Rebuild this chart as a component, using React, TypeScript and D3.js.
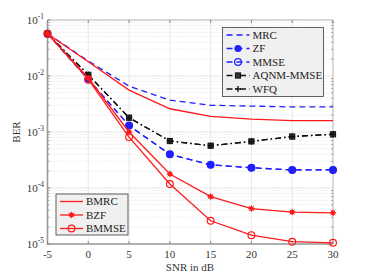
import * as d3 from "d3";

const snr = [-5, 0, 5, 10, 15, 20, 25, 30];
const mrc = [0.057, 0.0185, 0.0066, 0.0037, 0.003, 0.0029, 0.0028, 0.0028];
const zf = [0.057, 0.0087, 0.0013, 0.0004, 0.00026, 0.00023, 0.00021, 0.00021];
const mmse = [0.057, 0.0087, 0.0013, 0.0004, 0.00026, 0.00023, 0.00021, 0.00021];
const aqnm = [0.057, 0.0105, 0.0018, 0.00069, 0.00057, 0.00068, 0.00083, 0.00091];
const wfq = [0.057, 0.0105, 0.0018, 0.00069, 0.00057, 0.00068, 0.00083, 0.00091];
const bmrc = [0.057, 0.018, 0.0056, 0.0026, 0.0019, 0.0017, 0.0016, 0.0016];
const bzf = [0.057, 0.0092, 0.001, 0.000178, 0.00007, 0.000043, 0.000037, 0.000036];
const bmmse = [0.057, 0.0087, 0.00081, 0.000118, 0.000026, 0.0000144, 0.000011, 0.0000105];

const xTicks = [-5, 0, 5, 10, 15, 20, 25, 30];
const yExponents = [-1, -2, -3, -4, -5];

type Marker = "none" | "dot" | "circle" | "square" | "plus" | "star";
type Series = { name: string; values: number[]; color: string; dash: string; marker: Marker };

const topSeries: Series[] = [
  { name: "MRC", values: mrc, color: "#1f1fff", dash: "6,4", marker: "none" },
  { name: "ZF", values: zf, color: "#1f1fff", dash: "6,4", marker: "dot" },
  { name: "MMSE", values: mmse, color: "#1f1fff", dash: "6,4", marker: "circle" },
  { name: "AQNM-MMSE", values: aqnm, color: "#111", dash: "6,3,1.5,3", marker: "square" },
  { name: "WFQ", values: wfq, color: "#111", dash: "6,3,1.5,3", marker: "plus" },
];
const bottomSeries: Series[] = [
  { name: "BMRC", values: bmrc, color: "#ff1a1a", dash: "", marker: "none" },
  { name: "BZF", values: bzf, color: "#ff1a1a", dash: "", marker: "star" },
  { name: "BMMSE", values: bmmse, color: "#ff1a1a", dash: "", marker: "circle" },
];

const left = 47.5;
const right = 333;
const top = 20;
const bottom = 244;

const x = d3.scaleLinear().domain([-5, 30]).range([left, right]);
const y = d3.scaleLog().domain([1e-5, 1e-1]).range([bottom, top]);

function MarkerGlyph({ type, cx, cy, color }: { type: Marker; cx: number; cy: number; color: string }) {
  if (type === "dot") return <circle cx={cx} cy={cy} r={3.6} fill={color} />;
  if (type === "circle") return <circle cx={cx} cy={cy} r={3.4} fill="none" stroke={color} strokeWidth={1.2} />;
  if (type === "square")
    return <rect x={cx - 2.6} y={cy - 2.6} width={5.2} height={5.2} fill="#333" stroke={color} strokeWidth={1} />;
  if (type === "plus")
    return <path d={`M${cx - 3},${cy}H${cx + 3}M${cx},${cy - 3}V${cy + 3}`} stroke={color} strokeWidth={1.3} />;
  if (type === "star")
    return (
      <g>
        <circle cx={cx} cy={cy} r={2.4} fill={color} />
        <path
          d={`M${cx - 3.2},${cy}H${cx + 3.2}M${cx},${cy - 3.2}V${cy + 3.2}M${cx - 2.3},${cy - 2.3}L${cx + 2.3},${cy + 2.3}M${cx - 2.3},${cy + 2.3}L${cx + 2.3},${cy - 2.3}`}
          stroke={color}
          strokeWidth={1}
        />
      </g>
    );
  return null;
}

function SeriesPath({ s }: { s: Series }) {
  const path = d3
    .line<number>()
    .x((_d, i) => x(snr[i]))
    .y((d) => y(d))(s.values);
  return (
    <g>
      <path d={path ?? ""} fill="none" stroke={s.color} strokeWidth={1.3} strokeDasharray={s.dash || undefined} />
      {s.values.map((v, i) => (
        <MarkerGlyph key={i} type={s.marker} cx={x(snr[i])} cy={y(v)} color={s.color} />
      ))}
    </g>
  );
}

function Legend({ items, x0, y0, w, h, rowH }: { items: Series[]; x0: number; y0: number; w: number; h: number; rowH: number }) {
  return (
    <g>
      <rect x={x0} y={y0} width={w} height={h} fill="#f0f0f0" stroke="#3a3a3a" strokeWidth={0.8} />
      {items.map((s, i) => {
        const cy = y0 + 7.5 + i * rowH;
        return (
          <g key={s.name}>
            <line x1={x0 + 4} x2={x0 + 27} y1={cy} y2={cy} stroke={s.color} strokeWidth={1.3} strokeDasharray={s.dash || undefined} />
            <MarkerGlyph type={s.marker} cx={x0 + 15.5} cy={cy} color={s.color} />
            <text x={x0 + 30} y={cy + 3.8} fontSize={11} fill="#222">
              {s.name}
            </text>
          </g>
        );
      })}
    </g>
  );
}

export default function App() {
  const minor: number[] = [];
  for (let e = -5; e < -1; e++) for (let k = 2; k <= 9; k++) minor.push(k * Math.pow(10, e));

  return (
    <svg
      width={368}
      height={276}
      style={{ position: "fixed", left: 0, top: 0, background: "#fff", fontFamily: "'Liberation Serif', 'DejaVu Serif', serif" }}
    >
      {/* grid */}
      {minor.map((v) => (
        <line key={v} x1={left} x2={right} y1={y(v)} y2={y(v)} stroke="#d4d4d4" strokeWidth={0.7} strokeDasharray="1,2" />
      ))}
      {yExponents.map((e) => (
        <line key={e} x1={left} x2={right} y1={y(Math.pow(10, e))} y2={y(Math.pow(10, e))} stroke="#e2e2e2" strokeWidth={0.8} />
      ))}
      {xTicks.map((t) => (
        <line key={t} x1={x(t)} x2={x(t)} y1={top} y2={bottom} stroke="#e2e2e2" strokeWidth={0.8} />
      ))}

      {/* axes box */}
      <line x1={left} x2={right} y1={top} y2={top} stroke="#b0b0b0" strokeWidth={0.8} />
      <line x1={right} x2={right} y1={top} y2={bottom} stroke="#b0b0b0" strokeWidth={0.8} />
      <line x1={left} x2={left} y1={top} y2={bottom + 1} stroke="#9a9a9a" strokeWidth={1.6} />
      <line x1={left} x2={right} y1={bottom} y2={bottom} stroke="#9a9a9a" strokeWidth={1.6} />

      {/* ticks */}
      {xTicks.map((t) => (
        <g key={t}>
          <line x1={x(t)} x2={x(t)} y1={bottom} y2={bottom - 3} stroke="#888" />
          <line x1={x(t)} x2={x(t)} y1={top} y2={top + 3} stroke="#888" />
          <text x={x(t)} y={258} fontSize={11} textAnchor="middle" fill="#333">
            {t}
          </text>
        </g>
      ))}
      {minor.map((v) => (
        <g key={v}>
          <line x1={left} x2={left + 2} y1={y(v)} y2={y(v)} stroke="#888" strokeWidth={0.7} />
          <line x1={right} x2={right - 2} y1={y(v)} y2={y(v)} stroke="#888" strokeWidth={0.7} />
        </g>
      ))}
      {yExponents.map((e) => (
        <g key={e}>
          <line x1={left} x2={left + 3} y1={y(Math.pow(10, e))} y2={y(Math.pow(10, e))} stroke="#888" />
          <text x={44} y={y(Math.pow(10, e)) + 4} fontSize={11} textAnchor="end" fill="#333">
            10
            <tspan fontSize={7.5} dy={-5}>
              {`-${-e}`}
            </tspan>
          </text>
        </g>
      ))}

      <text x={190} y={271} fontSize={11} textAnchor="middle" fill="#333">
        SNR in dB
      </text>
      <text transform="translate(20,132) rotate(-90)" fontSize={11} textAnchor="middle" fill="#333">
        BER
      </text>

      {/* series */}
      {topSeries.map((s) => (
        <SeriesPath key={s.name} s={s} />
      ))}
      {bottomSeries.map((s) => (
        <SeriesPath key={s.name} s={s} />
      ))}

      <Legend items={topSeries} x0={222.5} y0={27.5} w={101} h={69} rowH={13.5} />
      <Legend items={bottomSeries} x0={56} y0={194} w={72} h={41} rowH={13.5} />
    </svg>
  );
}
